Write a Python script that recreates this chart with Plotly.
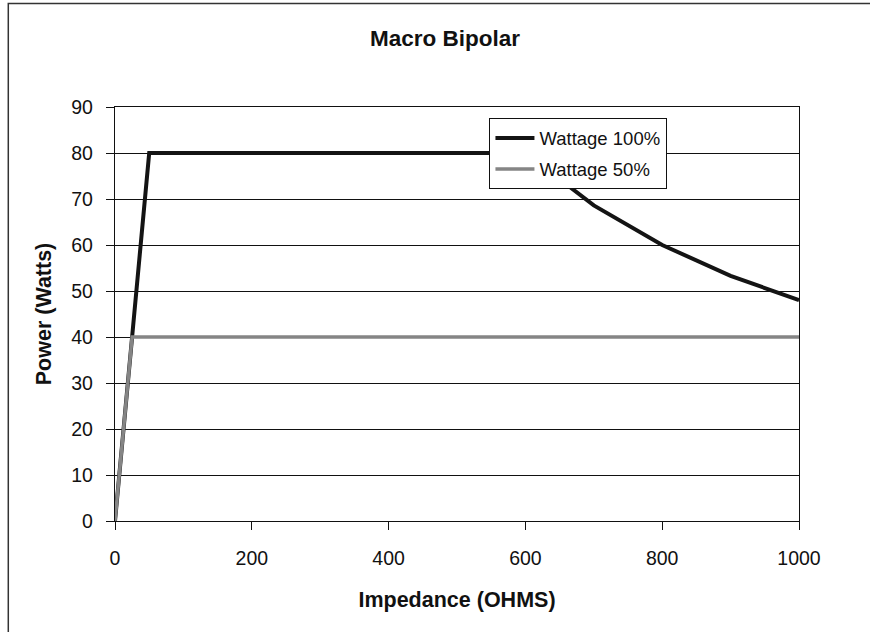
"""Macro Bipolar power curve."""

import plotly.graph_objects as go

# Impedance (ohms) and power (watts)
IMPEDANCE_100 = [0, 50, 100, 200, 300, 400, 500, 600, 700, 800, 900, 1000]
WATTS_100 = [0, 80, 80, 80, 80, 80, 80, 80, 68.6, 60, 53.3, 48]
IMPEDANCE_50 = [0, 25, 100, 200, 300, 400, 500, 600, 700, 800, 900, 1000]
WATTS_50 = [0, 40, 40, 40, 40, 40, 40, 40, 40, 40, 40, 40]

FONT = "Liberation Sans, Arial, sans-serif"
W, H = 870, 632

fig = go.Figure()
fig.add_trace(
    go.Scatter(
        x=IMPEDANCE_100,
        y=WATTS_100,
        mode="lines",
        name="Wattage 100%",
        legendgroup="a",
        line=dict(color="#141414", width=4),
    )
)
fig.add_trace(
    go.Scatter(
        x=IMPEDANCE_50,
        y=WATTS_50,
        mode="lines",
        name="Wattage 50%",
        legendgroup="b",
        line=dict(color="#858585", width=3.5),
    )
)

axis_common = dict(
    showline=True,
    linecolor="#111",
    linewidth=1.3,
    mirror=True,
    ticks="outside",
    ticklen=8,
    tickcolor="#111",
    tickwidth=1.3,
    tickfont=dict(family=FONT, size=19.5, color="#111"),
    zeroline=False,
)
fig.update_xaxes(
    range=[0, 1000],
    tickvals=[0, 200, 400, 600, 800, 1000],
    showgrid=False,
    ticklabelstandoff=11,
    title=dict(
        text="<b>Impedance (OHMS)</b>",
        font=dict(family=FONT, size=21.5, color="#111"),
        standoff=24,
    ),
    **axis_common,
)
fig.update_yaxes(
    range=[0, 90],
    tickvals=list(range(0, 91, 10)),
    showgrid=True,
    gridcolor="#111",
    gridwidth=1.3,
    ticklabelstandoff=9,
    title=dict(
        text="<b>Power (Watts)</b>",
        font=dict(family=FONT, size=21.5, color="#111"),
        standoff=13,
    ),
    **axis_common,
)

# outer chart border (runs off the right and bottom edges)
fig.add_shape(
    type="rect",
    xref="paper",
    yref="paper",
    x0=-0.156,
    x1=1.121,
    y0=-0.6,
    y1=1.2503,
    line=dict(color="#333", width=1.5),
)

fig.update_layout(
    width=W,
    height=H,
    margin=dict(l=115, r=71, t=107, b=111),
    paper_bgcolor="white",
    plot_bgcolor="white",
    title=dict(
        text="<b>Macro Bipolar</b>",
        font=dict(family=FONT, size=22.5, color="#111"),
        x=445 / W,
        xref="container",
        xanchor="center",
        y=1 - 38 / H,
        yref="container",
        yanchor="middle",
    ),
    legend=dict(
        x=0.547,
        y=0.973,
        xanchor="left",
        yanchor="top",
        bgcolor="white",
        bordercolor="#111",
        borderwidth=1.3,
        font=dict(family=FONT, size=18.5, color="#111"),
        traceorder="grouped",
        tracegroupgap=4,
        itemwidth=39,
    ),
    showlegend=True,
)

# drop the default body margin so the figure fills the window
fig.write_html(
    "out.html",
    config={"displayModeBar": False},
    post_script="document.body.style.margin='0';document.body.style.overflow='hidden';",
)
